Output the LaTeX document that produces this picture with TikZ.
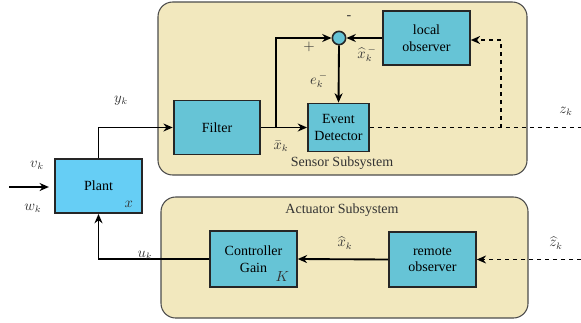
\documentclass[tikz,border=0pt]{standalone}
\usepackage{fontspec}
\setmainfont{Liberation Serif}
\usetikzlibrary{arrows.meta, positioning, calc}
\definecolor{subsysfill}{RGB}{242,232,190}
\definecolor{blockfill}{RGB}{102,196,214}
\definecolor{plantfill}{RGB}{102,206,245}

\begin{document}
\begin{tikzpicture}[
  x=0.75pt, y=-0.75pt,
  >={Stealth[length=7pt, width=6pt]},
  subsys/.style={draw=black!70, fill=subsysfill, rounded corners=11pt, line width=0.8pt},
  blockbox/.style={draw=black!85, fill=blockfill, line width=1.4pt, align=center,
    inner sep=0pt, minimum width=65pt, minimum height=40.5pt, font=\fontsize{10.5}{12.5}\selectfont},
  arr/.style={->, line width=1.4pt},
  darr/.style={->, dashed, line width=0.9pt},
  lbl/.style={font=\fontsize{10.5}{12.5}\selectfont, text=black!80},
]
\useasboundingbox (0,0) rectangle (581,322);

% subsystem panels
\draw[subsys] (158,2) rectangle (527,175);
\draw[subsys] (161,197) rectangle (528,318);
\node[lbl] (senslbl) at (342,163) {Sensor Subsystem};
\node[lbl] (actlbl) at (342,210) {Actuator Subsystem};

% blocks
\node[blockbox, fill=plantfill] (plant) at (98.5,186) {Plant};
\node[lbl, anchor=south east] (plantx) at ($(plant.south east)+(-5,-2)$) {$x$};
\node[blockbox] (filter) at (217,127.5) {Filter};
\node[blockbox, minimum width=45.75pt, minimum height=36pt] (event) at (338.5,127.5) {Event\\Detector};
\node[blockbox] (local) at (426.5,38) {local\\observer};
\node[circle, draw=black!85, fill=blockfill, line width=1.2pt, minimum size=10pt, inner sep=0pt] (sum) at (339,38) {};
\node[blockbox, minimum height=42pt] (ctrl) at (253.5,259) {Controller\\Gain};
\node[lbl, anchor=south east] (ctrlk) at ($(ctrl.south east)+(-4,-2)$) {$K$};
\node[blockbox, minimum height=41pt] (remote) at (432.5,259.5) {remote\\observer};

% free ends
\coordinate (inp) at (9,187);
\coordinate (split) at (276,127.5);
\coordinate (tap) at (501,127.5);
\coordinate (zout) at (581,127.5);
\coordinate (zin) at (581,259.5);

% connectors
\draw[arr, shorten >=4pt] (inp) -- (plant.west |- inp);
\draw[arr] (plant.north) |- (filter.west);
\draw[arr] (filter.east) -- (event.west);
\draw[arr] (split) |- (sum.west);
\draw[arr] (local.west) -- (sum.east);
\draw[arr] (sum.south) -- (event.north);
\draw[dashed, line width=0.9pt] (event.east) -- (zout);
\draw[darr] (tap) |- ($(local.east)+(0,2)$);
\draw[darr] (zin) -- (remote.east);
\draw[arr] (remote.west) -- (ctrl.east);
\draw[arr] (ctrl.west) -| (plant.south);

% signal labels
\node[lbl] (vk) at (37,165) {$v_k$};
\node[lbl] (wk) at (33,208) {$w_k$};
\node[lbl] (yk) at (121,101) {$y_k$};
\node[lbl] (xbar) at (281,146) {$\bar{x}_k$};
\node[lbl] (plus) at (309,47) {$+$};
\node[lbl] (minus) at (349,18) {-};
\node[lbl] (xhatm) at (367,54) {$\widehat{x}_k^{\,-}$};
\node[lbl] (ekm) at (319,80) {$e_k^{\,-}$};
\node[lbl] (zk) at (566,111) {$z_k$};
\node[lbl] (xhat) at (345,243) {$\widehat{x}_k$};
\node[lbl] (zhat) at (556,243) {$\widehat{z}_k$};
\node[lbl] (uk) at (145,255) {$u_k$};
\end{tikzpicture}
\end{document}
